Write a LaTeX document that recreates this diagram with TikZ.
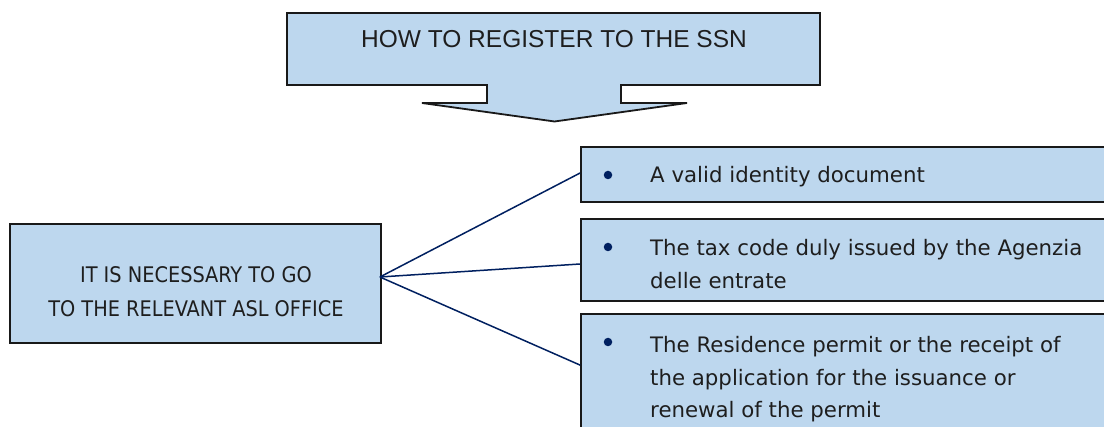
\documentclass[tikz,border=0pt]{standalone}
\usepackage{fontspec}
\newfontfamily\titlefont{Liberation Sans}
\newfontfamily\condfont{DejaVu Sans Condensed}
\newfontfamily\bodyfont{DejaVu Sans}
\usetikzlibrary{calc}
\definecolor{boxfill}{RGB}{189,215,238}
\definecolor{boxline}{RGB}{25,25,25}
\definecolor{navy}{RGB}{0,32,96}
\definecolor{txt}{RGB}{30,30,30}
\begin{document}
\begin{tikzpicture}[x=1pt,y=-1pt,
  panel/.style={draw=boxline, fill=boxfill, line width=1.8pt, rectangle, inner sep=0pt},
  callout/.style={draw=boxline, fill=boxfill, line width=1.8pt, line join=miter},
  link/.style={draw=navy, line width=1.5pt},
  dot/.style={circle, fill=navy, inner sep=0pt, minimum size=8.5pt},
  itemtext/.style={anchor=base west, inner sep=0pt, text=txt, font=\bodyfont\fontsize{21.3}{32.4}\selectfont}]
\clip (0,0) rectangle (1104,427);
\fill[white] (0,0) rectangle (1104,427);
% title callout
\path[callout] (287,13) -- (820,13) -- (820,85) -- (621,85) -- (621,103) -- (687,103)
  -- (554.5,121.5) -- (422,103) -- (487,103) -- (487,85) -- (287,85) -- cycle;
\node[anchor=base, inner sep=0pt, text=txt, font=\titlefont\fontsize{24.5}{29}\selectfont] (title) at (554,48) {HOW TO REGISTER TO THE SSN};
% left box
\node[panel, minimum width=371pt, minimum height=119pt] (L) at (195.5,283.5) {};
\node[anchor=base, inner sep=0pt, text=txt, font=\condfont\fontsize{21.5}{34}\selectfont] (Ltext) at (196,283)
  {\parbox[t]{360pt}{\centering IT IS NECESSARY TO GO\\TO THE RELEVANT ASL OFFICE}};
% right boxes
\node[panel, minimum width=540pt, minimum height=55pt] (B1) at (851,174.5) {};
\node[panel, minimum width=540pt, minimum height=82pt] (B2) at (851,260) {};
\node[panel, minimum width=540pt, minimum height=134pt] (B3) at (851,381) {};
\node[dot] (d1) at (608,175) {};
\node[dot] (d2) at (608,247) {};
\node[dot] (d3) at (608,342) {};
\node[itemtext] (t1) at (650,183) {A valid identity document};
\node[itemtext] (t2) at (650,256) {\parbox[t]{450pt}{\raggedright The tax code duly issued by the Agenzia\\delle entrate}};
\node[itemtext] (t3) at (650,353) {\parbox[t]{450pt}{\raggedright The Residence permit or the receipt of\\the application for the issuance or\\renewal of the permit}};
% connectors
\coordinate (hub) at ($(L.east)+(-2,-6.5)$);
\coordinate (e1) at ($(B1.west)+(0,-1.5)$);
\coordinate (e2) at ($(B2.west)+(0,4)$);
\coordinate (e3) at ($(B3.north west)+(0,52)$);
\draw[link] (hub) -- (e1);
\draw[link] (hub) -- (e2);
\draw[link] (hub) -- (e3);
\end{tikzpicture}
\end{document}
